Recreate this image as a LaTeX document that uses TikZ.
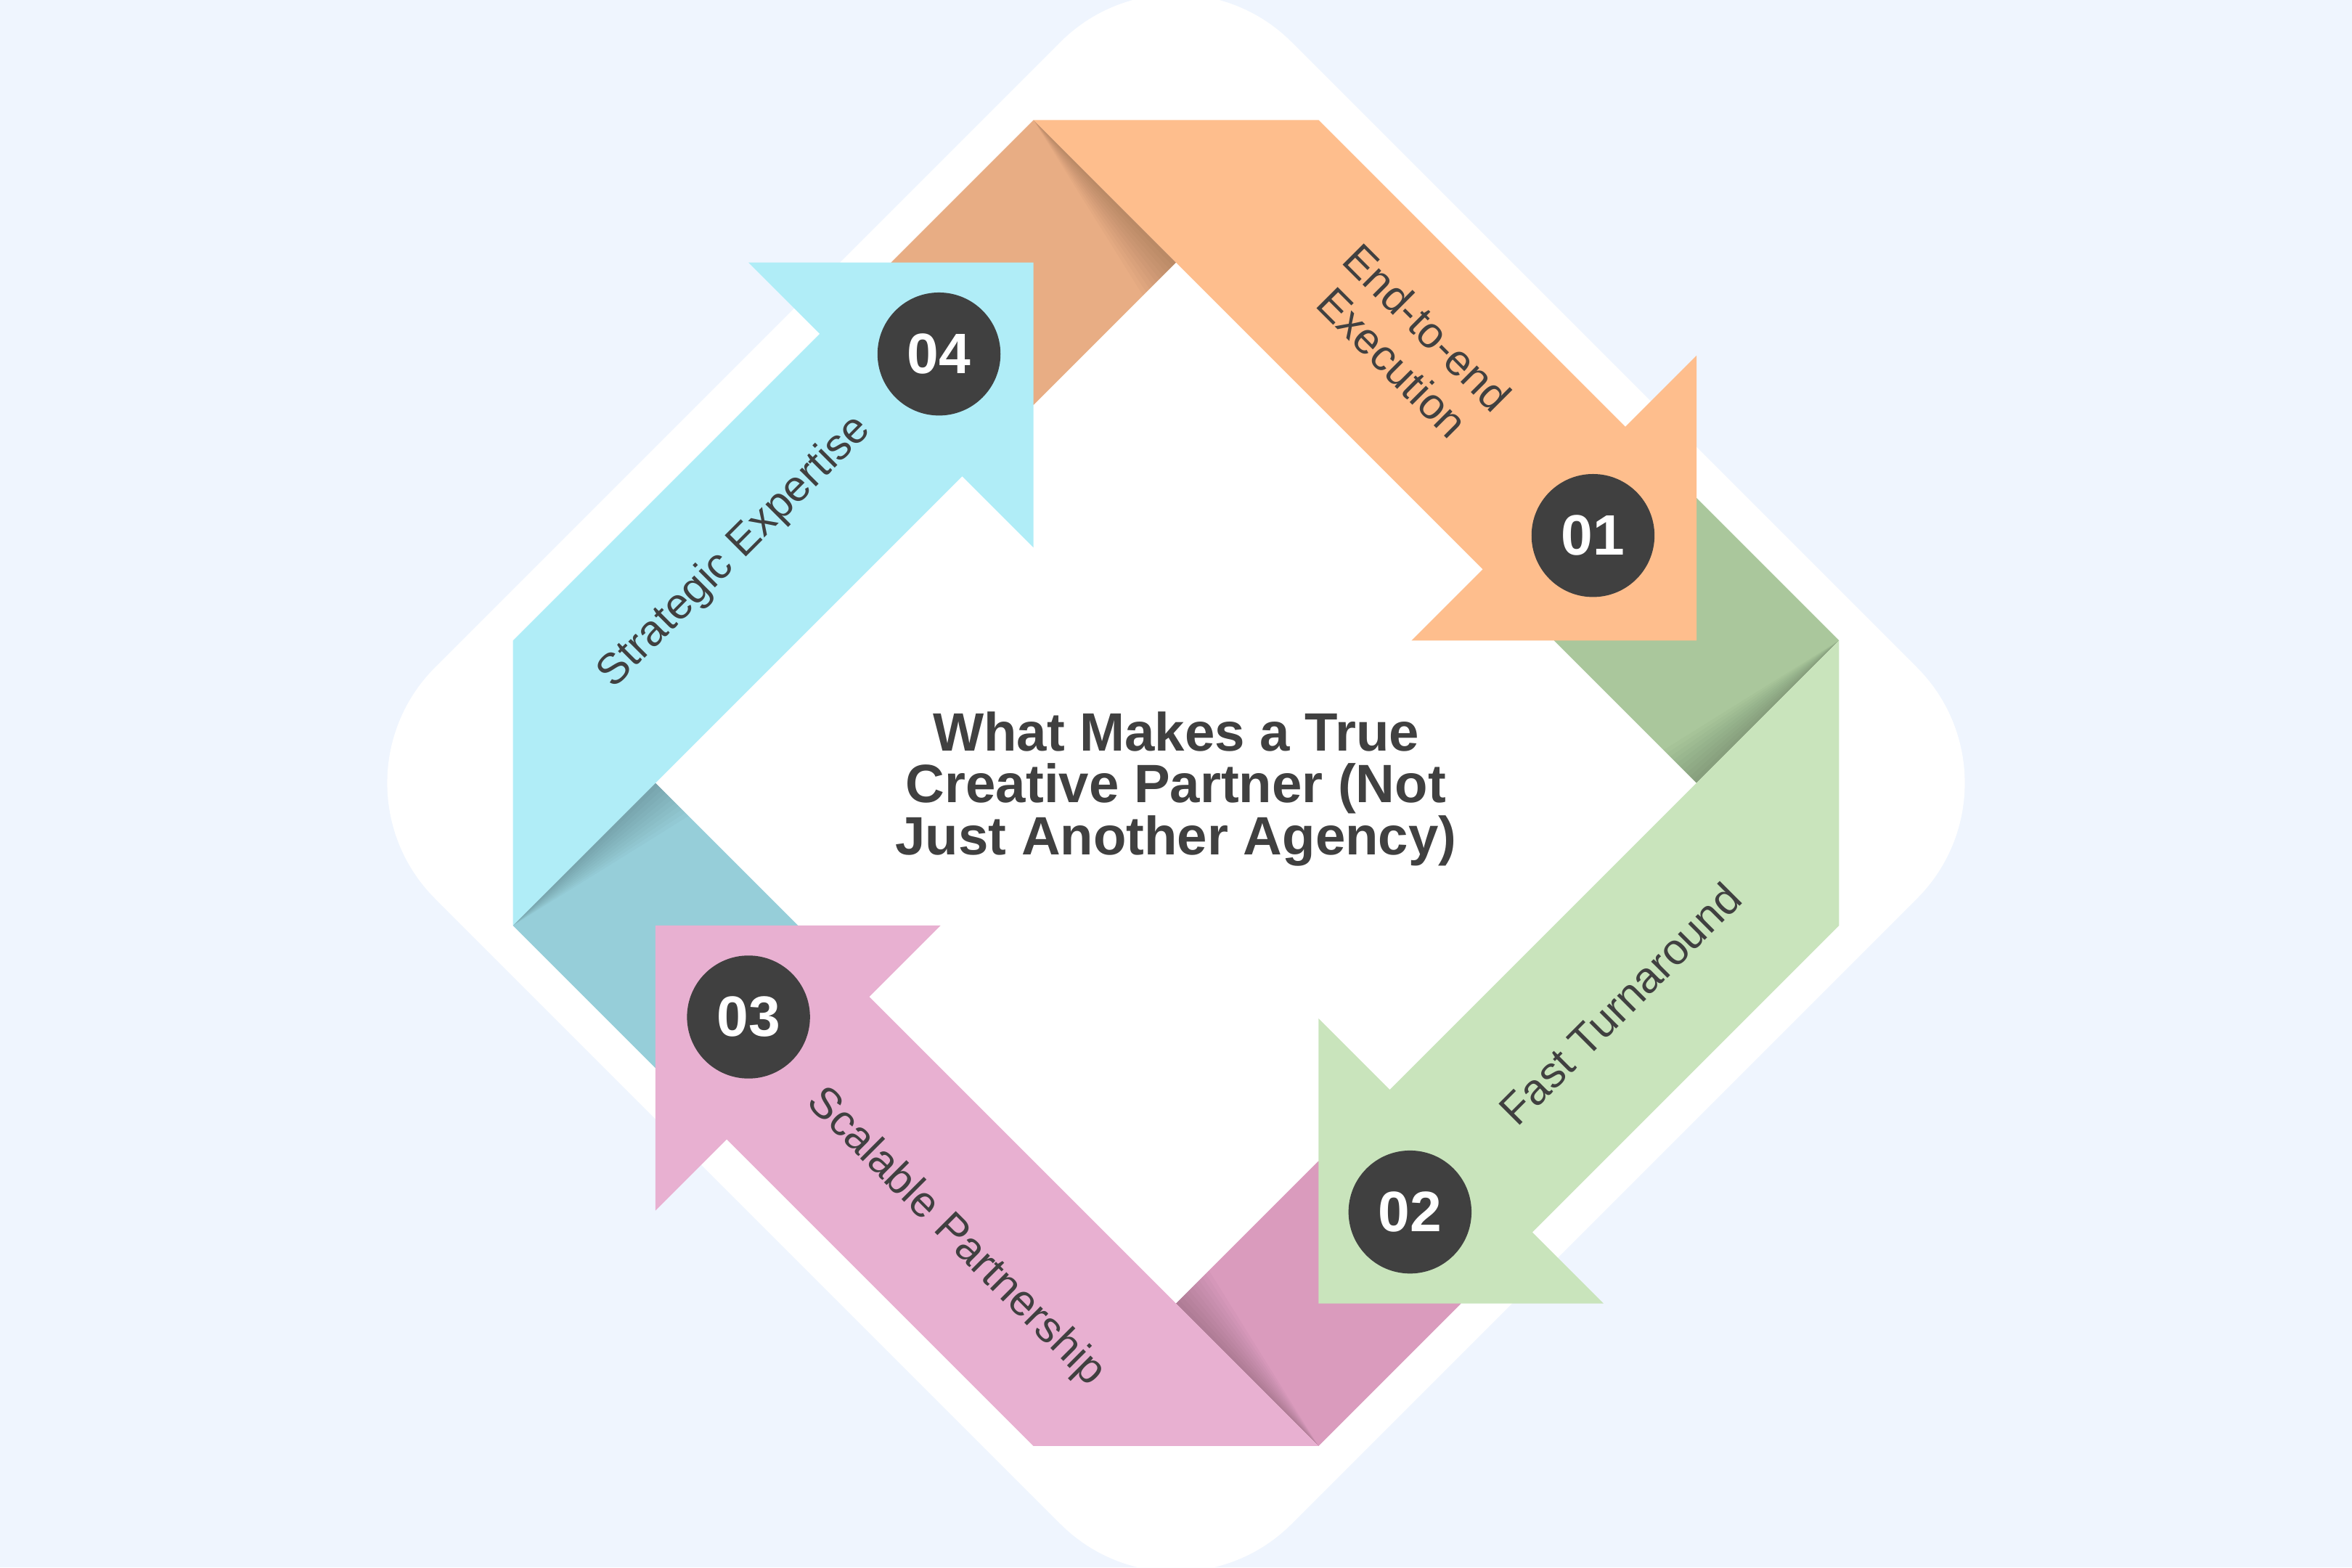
\documentclass[tikz,border=0pt]{standalone}
\usepackage{fontspec}
\setmainfont{Liberation Sans}
\definecolor{bgc}{HTML}{EFF5FE}
\definecolor{dk}{HTML}{404040}
\definecolor{arrO}{HTML}{FEBE8D}
\definecolor{foldO}{HTML}{E8AD84}
\definecolor{arrG}{HTML}{C9E4BC}
\definecolor{foldG}{HTML}{AAC79C}
\definecolor{arrP}{HTML}{E8B0D1}
\definecolor{foldP}{HTML}{DA9BBD}
\definecolor{arrB}{HTML}{B0EDF7}
\definecolor{foldB}{HTML}{96CED9}
\tikzset{
  numc/.style={circle, fill=dk, minimum size=82pt, inner sep=0pt, text=white,
    font=\bfseries\fontsize{38}{38}\selectfont},
  lbl/.style={text=dk, inner sep=0pt, font=\fontsize{29}{33}\selectfont},
  ttl/.style={text=dk, inner sep=0pt, align=center, font=\bfseries\fontsize{36}{34.5}\selectfont},
}
\begin{document}
\begin{tikzpicture}[x=1pt,y=-1pt]
\useasboundingbox (0,0) rectangle (1568,1045);
\clip (0,0) rectangle (1568,1045);
\fill[bgc] (0,0) rectangle (1568,1045);
\fill[white, rounded corners=109pt] (784,-49) -- (1355,522) -- (784,1093) -- (213,522) -- cycle;
% folds with shadows
\foreach \ang/\col in {0/foldO, -90/foldG, 180/foldP, 90/foldB} {
  \begin{scope}[shift={(784,522)}, rotate=\ang]
    \fill[\col] (-95,-442) -- (0,-347) -- (-95,-252) -- (-190,-347) -- cycle;
    \foreach \k in {1,...,10}
      \fill[black, opacity=0.018] (-95,-442) -- (0,-347) -- ({-2.2*\k},{-347+2.2*\k}) -- cycle;
  \end{scope}
}
% arrows
\foreach \ang/\col in {0/arrO, -90/arrG, 180/arrP, 90/arrB} {
  \begin{scope}[shift={(784,522)}, rotate=\ang]
    \fill[\col] (-95,-442) -- (95,-442) -- (299.5,-237.5) -- (347,-285) -- (347,-95)
      -- (157,-95) -- (204.5,-142.5) -- cycle;
  \end{scope}
}
% numbers
\node[numc] (n1) at (1062,357) {01};
\node[numc] (n2) at (940,808) {02};
\node[numc] (n3) at (499,678) {03};
\node[numc] (n4) at (626,236) {04};
% labels
\node[lbl, rotate=-45, align=center] (l1) at (940,230) {End-to-end\\Execution};
\node[lbl, rotate=45] (l2) at (1080,669) {Fast Turnaround};
\node[lbl, rotate=-45] (l3) at (637,825) {Scalable Partnership};
\node[lbl, rotate=45] (l4) at (490,368) {Strategic Expertise};
% title
\node[ttl] (t) at (784,526) {What Makes a True\\Creative Partner (Not\\Just Another Agency)};
\end{tikzpicture}
\end{document}
